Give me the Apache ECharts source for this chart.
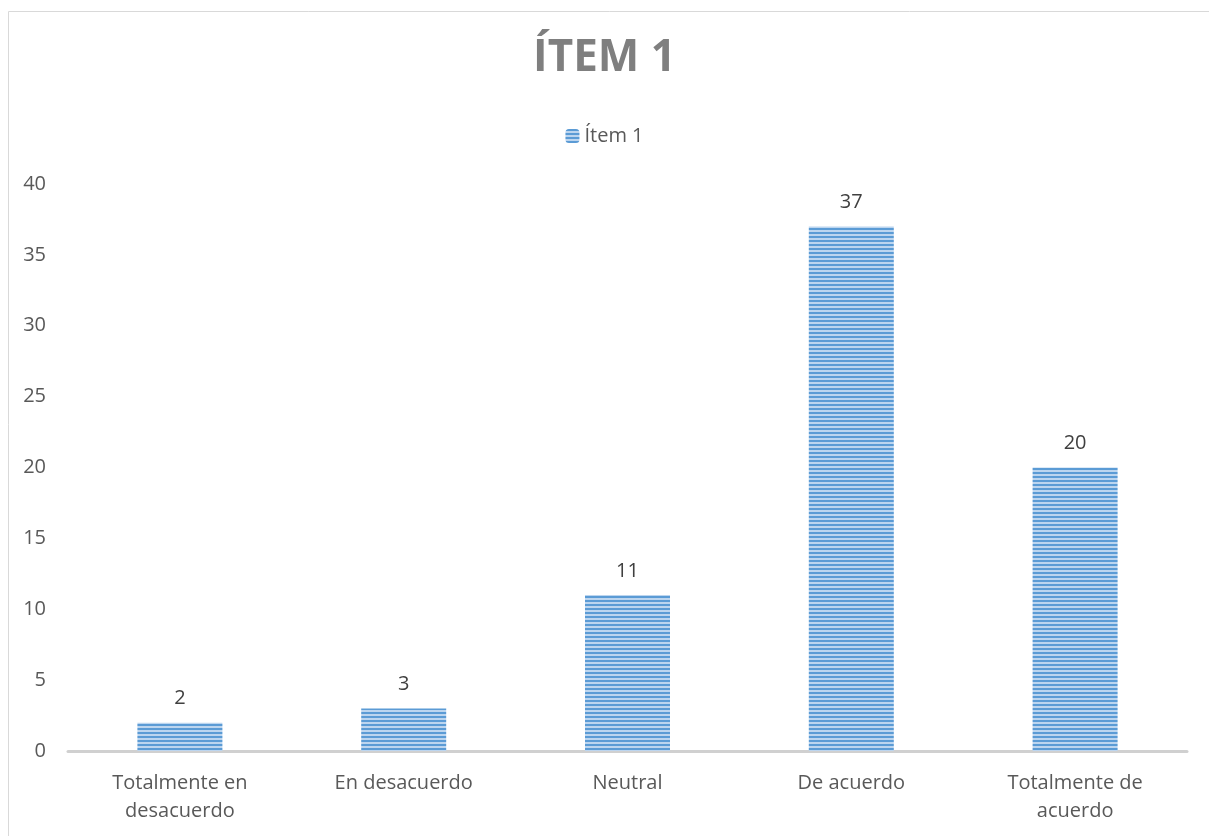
<!DOCTYPE html>
<html>
<head>
<meta charset="utf-8">
<script src="https://cdn.jsdelivr.net/npm/echarts@6/dist/echarts.min.js"></script>
<style>
  html, body { margin: 0; padding: 0; background: #fff; }
  #chart { width: 1209px; height: 836px; }
</style>
</head>
<body>
<div id="chart"></div>
<script>
'use strict'
var categories = ['Totalmente en\ndesacuerdo', 'En desacuerdo', 'Neutral', 'De acuerdo', 'Totalmente de\nacuerdo'];
var values = [2, 3, 11, 37, 20];
var seriesName = 'Ítem 1';

// horizontal stripe fill like the original
function stripes() {
  var c = document.createElement('canvas');
  c.width = 4; c.height = 4;
  var ctx = c.getContext('2d');
  ctx.fillStyle = '#bcd5ef';
  ctx.fillRect(0, 0, 4, 4);
  ctx.fillStyle = '#5b9bd5';
  ctx.fillRect(0, 0, 4, 2);
  return c;
}
var stripeFill = { image: stripes(), repeat: 'repeat' };

var chart = echarts.init(document.getElementById('chart'));
chart.setOption({
  textStyle: { fontFamily: 'Open Sans' },
  title: {
    text: 'ÍTEM 1',
    left: 'center',
    top: 31,
    textStyle: { fontSize: 44, fontWeight: 'bold', color: '#7f7f7f', fontFamily: 'Open Sans' }
  },
  legend: {
    data: [seriesName],
    top: 121,
    left: 'center',
    itemWidth: 14,
    itemHeight: 14,
    itemGap: 4,
    textStyle: { fontSize: 20, color: '#595959' }
  },
  graphic: [{
    type: 'rect',
    shape: { x: 8.5, y: 11.5, width: 1300, height: 900 },
    style: { fill: 'none', stroke: '#d9d9d9', lineWidth: 1 },
    silent: true
  }],
  grid: { left: 68, right: 22, top: 184, bottom: 85 },
  xAxis: {
    type: 'category',
    data: categories,
    axisLine: { lineStyle: { color: '#d0d0d0', width: 3 } },
    axisTick: { show: false },
    axisLabel: { fontSize: 20, color: '#595959', lineHeight: 28, margin: 18 }
  },
  yAxis: {
    type: 'value',
    min: 0,
    max: 40,
    interval: 5,
    splitLine: { show: false },
    axisLine: { show: false },
    axisTick: { show: false },
    axisLabel: { fontSize: 20, color: '#595959', margin: 22 }
  },
  series: [{
    name: seriesName,
    type: 'bar',
    data: values,
    barWidth: 85,
    itemStyle: { color: stripeFill },
    label: { show: true, position: 'top', fontSize: 20, color: '#404040', distance: 14 }
  }]
});
</script>
</body>
</html>
